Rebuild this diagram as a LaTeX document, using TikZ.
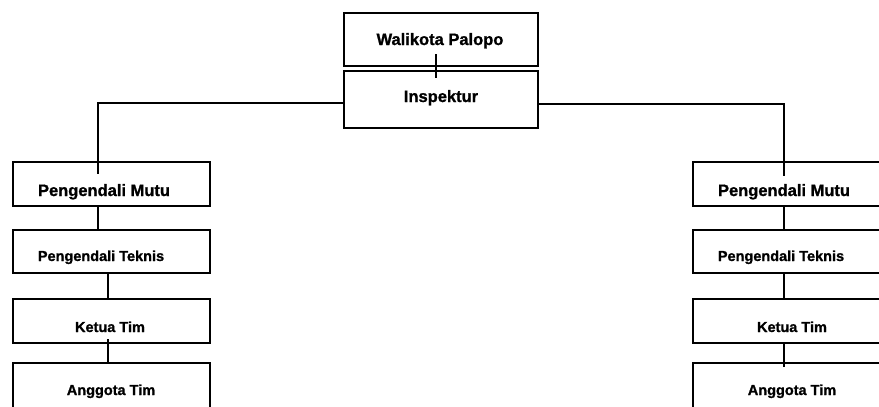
\documentclass[tikz,border=0pt]{standalone}
\usepackage{fontspec}
\setmainfont{Liberation Sans}[BoldFeatures={FakeBold=1.2}]
\usetikzlibrary{calc}
\begin{document}
\begin{tikzpicture}[x=1pt,y=-1pt,
  boxA/.style={draw, line width=2.8pt, rectangle, inner sep=0pt, minimum width=194pt},
  boxB/.style={draw, line width=2.8pt, rectangle, inner sep=0pt, minimum width=197pt},
  conn/.style={line width=2.4pt},
  bigtxt/.style={anchor=base, inner sep=0pt, font=\fontsize{16.5}{18}\selectfont\bfseries},
  smalltxt/.style={anchor=base, inner sep=0pt, font=\fontsize{14.5}{16}\selectfont\bfseries}]
\useasboundingbox (0,0) rectangle (879,407);
\clip (0,0) rectangle (879,407);
% top boxes
\node[boxA, minimum height=53pt] (wk) at (441,39.5) {};
\node[boxA, minimum height=57pt] (insp) at (441,99.5) {};
% left column
\node[boxB, minimum height=44pt] (lm) at (111.5,184) {};
\node[boxB, minimum height=43pt] (lt) at (111.5,251.5) {};
\node[boxB, minimum height=44pt] (lk) at (111.5,321) {};
\node[boxB, minimum height=57pt] (la) at (111.5,391.5) {};
% right column
\node[boxB, minimum height=44pt] (rm) at (791.5,184) {};
\node[boxB, minimum height=43pt] (rt) at (791.5,251.5) {};
\node[boxB, minimum height=44pt] (rk) at (791.5,321) {};
\node[boxB, minimum height=57pt] (ra) at (791.5,391.5) {};
% texts
\node[bigtxt] (wkT) at (440,45) {Walikota Palopo};
\node[bigtxt] (inspT) at (441,102) {Inspektur};
\node[bigtxt] (lmT) at (104,196) {Pengendali Mutu};
\node[smalltxt] (ltT) at (101,261) {Pengendali Teknis};
\node[smalltxt] (lkT) at (110,332) {Ketua Tim};
\node[smalltxt] (laT) at (111,395) {Anggota Tim};
\node[bigtxt] (rmT) at (784,196) {Pengendali Mutu};
\node[smalltxt] (rtT) at (781,261) {Pengendali Teknis};
\node[smalltxt] (rkT) at (792,332) {Ketua Tim};
\node[smalltxt] (raT) at (792,395) {Anggota Tim};
% junction points
\coordinate (jl) at (98,103);
\coordinate (jr) at (784,104);
% connectors
\draw[conn] ($(wk.south -| 436,0)+(0,-13)$) -- ($(insp.north -| 436,0)+(0,8)$);
\draw[conn] (insp.west |- jl) -- (jl) -- ($(lm.north -| jl)+(0,13)$);
\draw[conn] (insp.east |- jr) -- (jr) -- ($(rm.north -| jr)+(0,15)$);
\draw[conn] (lm.south -| 98,0) -- (lt.north -| 98,0);
\draw[conn] (lt.south -| 108,0) -- (lk.north -| 108,0);
\draw[conn] ($(lk.south -| 108,0)+(0,-5)$) -- (la.north -| 108,0);
\draw[conn] (rm.south -| 784,0) -- (rt.north -| 784,0);
\draw[conn] (rt.south -| 784,0) -- (rk.north -| 784,0);
\draw[conn] (rk.south -| 784,0) -- ($(ra.north -| 784,0)+(0,5)$);
\end{tikzpicture}
\end{document}
